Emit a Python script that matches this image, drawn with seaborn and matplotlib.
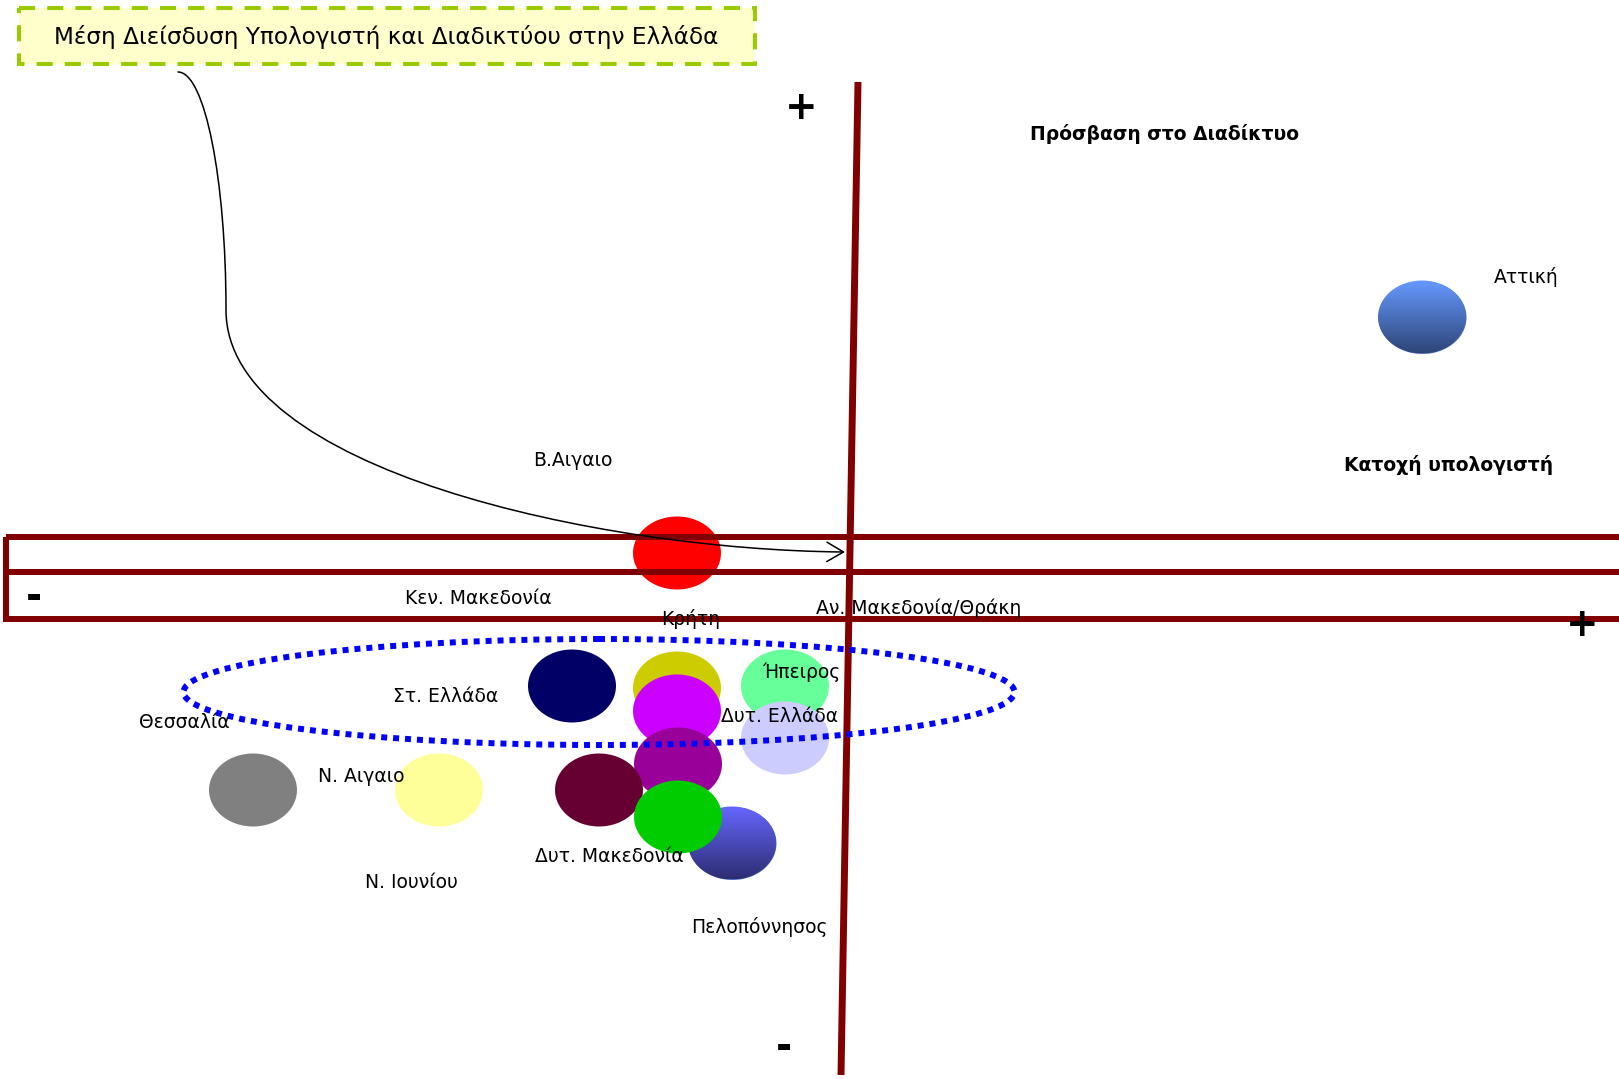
import numpy as np
import pandas as pd
import seaborn as sns
import matplotlib.pyplot as plt
from matplotlib.path import Path
from matplotlib.patches import Rectangle, Ellipse, FancyArrowPatch, ArrowStyle
from matplotlib.colors import LinearSegmentedColormap

# positions on the map (x: computer ownership, y: internet access, screen-like units)
bubble_x = [677, 572, 677, 677, 785, 785, 678, 599, 678, 253, 439]
bubble_y = [553, 686, 688, 711, 686, 738, 764, 790, 817, 790, 790]
bubble_colors = ["#FF0000", "#000066", "#CCCC00", "#CC00FF", "#66FF99", "#CCCCFF",
                 "#990099", "#660033", "#00CC00", "#808080", "#FFFF99"]

# the two shaded bubbles (Αττική, Πελοπόννησος)
grad_x = [1422, 732]
grad_y = [317, 843]
grad_top = ["#6699FF", "#6666FF"]
grad_bottom = ["#2E4678", "#2D2D73"]

region_labels = ["Αττική", "Β.Αιγαιο", "Κεν. Μακεδονία", "Κρήτη", "Αν. Μακεδονία/Θράκη",
                 "Ήπειρος", "Δυτ. Ελλάδα", "Στ. Ελλάδα", "Θεσσαλία", "Ν. Αιγαιο",
                 "Δυτ. Μακεδονία", "Ν. Ιουνίου", "Πελοπόννησος"]
label_x = [1494, 533, 405, 661, 816, 762, 721, 393, 139, 318, 535, 365, 691]
label_y = [277, 460, 598, 619, 608, 672, 717, 697, 723, 777, 856, 882, 927]

title = "Μέση Διείσδυση Υπολογιστή και Διαδικτύου στην Ελλάδα"
y_axis_title = "Πρόσβαση στο Διαδίκτυο"
x_axis_title = "Κατοχή υπολογιστή"

W, H = 1619, 1079
BW, BH = 88, 73  # bubble size in pixels

sns.set_theme(style="white")
plt.rcParams["font.family"] = ["DejaVu Sans"]
plt.rcParams["text.color"] = "black"

fig = plt.figure(figsize=(W / 100, H / 100), dpi=100)
ax = fig.add_axes([0, 0, 1, 1])

# ellipse shaped marker
t = np.linspace(0, 2 * np.pi, 100)
ell_marker = Path(np.column_stack([np.cos(t), (BH / BW) * np.sin(t)]), closed=True)
size = (BW * 72 / 100) ** 2

# shaded bubbles: base + vertical gradient clipped to the ellipse
sns.scatterplot(x=grad_x, y=grad_y, color="#4A6AC0", marker=ell_marker, s=size,
                linewidth=0, legend=False, ax=ax, zorder=1)
for gx, gy, c0, c1 in zip(grad_x, grad_y, grad_top, grad_bottom):
    cmap = LinearSegmentedColormap.from_list("g", [c0, c1])
    im = ax.imshow(np.linspace(0, 1, 64).reshape(-1, 1), cmap=cmap, aspect="auto",
                   extent=(gx - BW / 2, gx + BW / 2, gy + BH / 2, gy - BH / 2),
                   zorder=1.5, interpolation="bilinear")
    clip = Ellipse((gx, gy), BW, BH, transform=ax.transData)
    im.set_clip_path(clip)

df = pd.DataFrame({"x": bubble_x, "y": bubble_y, "c": bubble_colors})
sns.scatterplot(data=df, x="x", y="y", hue="c", palette={c: c for c in bubble_colors},
                marker=ell_marker, s=size, linewidth=0, legend=False, ax=ax, zorder=2)

# quadrant frame
dark_red = "#800000"
ax.add_patch(Rectangle((6, 537), 1700, 35, fill=False, ec=dark_red, lw=4.3, zorder=3))
ax.add_patch(Rectangle((6, 572), 1700, 47, fill=False, ec=dark_red, lw=4.3, zorder=3))
ax.plot([858, 841], [82, 1075], color=dark_red, lw=5, solid_capstyle="butt", zorder=3)

# dotted group outline
ax.add_patch(Ellipse((599, 692), 831, 106, fill=False, ec="#0000FF", lw=4.3,
                     ls=(0, (1, 1)), capstyle="butt", zorder=4))

# labels
for lx, ly, txt in zip(label_x, label_y, region_labels):
    ax.text(lx, ly, txt, ha="left", va="center", fontsize=13.5, color="black", zorder=5)

ax.text(1030, 134, y_axis_title, ha="left", va="center", fontsize=13.5,
        fontweight="bold", color="black")
ax.text(1344, 465, x_axis_title, ha="left", va="center", fontsize=13.5,
        fontweight="bold", color="black")

for sx, sy, s in [(801, 108, "+"), (1582, 625, "+"), (34, 598, "-"), (784, 1048, "-")]:
    ax.text(sx, sy, s, ha="center", va="center", fontsize=28, fontweight="bold",
            color="black")

# title box
ax.add_patch(Rectangle((19, 8), 736, 56, fc="#FFFFCC", ec="#99CC00", lw=2.9,
                       ls=(0, (4, 3)), zorder=5))
ax.text(386, 37, title, ha="center", va="center", fontsize=16.7, color="black", zorder=6)

# curved connector from title to the centre
verts = [(178, 72), (205, 72), (226, 180), (226, 310),
         (226, 470), (600, 550), (845, 552)]
codes = [Path.MOVETO, Path.CURVE4, Path.CURVE4, Path.CURVE4,
         Path.CURVE4, Path.CURVE4, Path.CURVE4]
arrow = FancyArrowPatch(path=Path(verts, codes),
                        arrowstyle=ArrowStyle("->", head_length=12, head_width=7),
                        lw=1.1, color="black", mutation_scale=1, zorder=6)
ax.add_patch(arrow)

ax.set_xlim(0, W)
ax.set_ylim(H, 0)
ax.axis("off")

fig.savefig("out.png", dpi=100)
